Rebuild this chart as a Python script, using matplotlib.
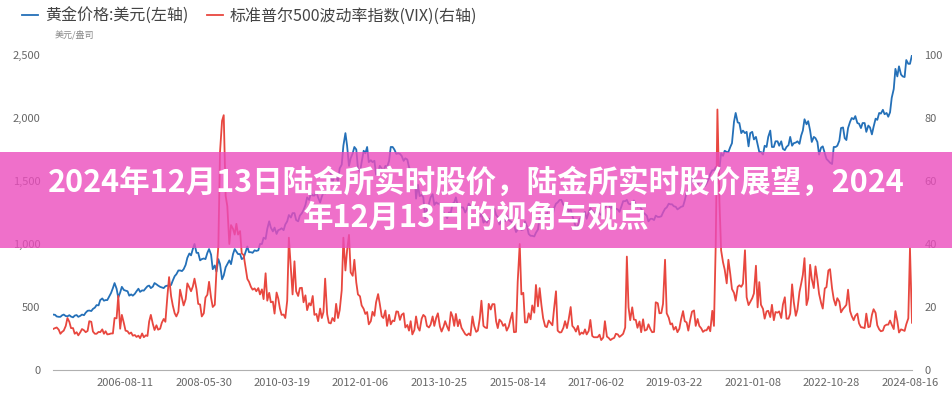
import matplotlib
matplotlib.use("Agg")
import matplotlib.pyplot as plt
import pandas as pd
from matplotlib.patches import Rectangle

plt.rcParams['font.family'] = ['Noto Sans CJK SC', 'DejaVu Sans']

# semi-monthly readings (15th, then 1st of next month), starting 2004-12-15
gold_price = [
    440, 438,
    425, 422, 422, 434, 440, 428, 426, 435, 424, 418, 432, 436, 422, 430, 440, 435, 455, 470, 472, 468, 485, 495, 515, 513,
    555, 568, 550, 555, 555, 585, 610, 650, 690, 645, 575, 615, 660, 635, 630, 625, 590, 600, 590, 605, 625, 645, 620, 632,
    630, 650, 665, 670, 650, 662, 690, 680, 670, 660, 655, 650, 665, 670, 665, 675, 710, 745, 760, 790, 790, 785, 800, 835,
    890, 925, 910, 960, 1000, 930, 930, 870, 880, 885, 880, 930, 960, 915, 800, 830, 780, 880, 840, 720, 750, 815, 840, 870,
    840, 920, 960, 940, 920, 920, 880, 890, 930, 980, 935, 935, 930, 950, 945, 950, 1000, 1000, 1050, 1040, 1120, 1180, 1130, 1100,
    1130, 1080, 1110, 1115, 1125, 1110, 1155, 1180, 1230, 1210, 1245, 1245, 1190, 1180, 1225, 1245, 1270, 1310, 1370, 1350, 1400, 1385, 1385, 1410,
    1370, 1330, 1375, 1410, 1400, 1430, 1490, 1560, 1490, 1535, 1530, 1500, 1600, 1630, 1780, 1880, 1780, 1620, 1680, 1720, 1770, 1750, 1600, 1570,
    1650, 1740, 1720, 1770, 1650, 1665, 1650, 1660, 1550, 1560, 1620, 1600, 1580, 1620, 1610, 1660, 1770, 1770, 1750, 1715, 1720, 1715, 1700, 1660,
    1680, 1670, 1610, 1580, 1590, 1595, 1360, 1470, 1380, 1390, 1370, 1200, 1280, 1320, 1370, 1395, 1310, 1330, 1320, 1320, 1285, 1250, 1230, 1205,
    1250, 1250, 1320, 1330, 1370, 1295, 1300, 1290, 1290, 1250, 1275, 1320, 1300, 1285, 1305, 1290, 1230, 1215, 1240, 1170, 1185, 1170, 1200, 1200,
    1270, 1280, 1230, 1215, 1155, 1185, 1200, 1180, 1225, 1190, 1180, 1170, 1150, 1095, 1115, 1135, 1110, 1115, 1180, 1140, 1080, 1065, 1065, 1060,
    1090, 1115, 1210, 1235, 1260, 1235, 1235, 1290, 1275, 1215, 1285, 1320, 1330, 1350, 1350, 1310, 1310, 1315, 1255, 1275, 1225, 1175, 1130, 1150,
    1200, 1210, 1235, 1255, 1200, 1250, 1285, 1265, 1235, 1265, 1260, 1240, 1230, 1270, 1285, 1315, 1320, 1280, 1300, 1270, 1280, 1275, 1255, 1300,
    1340, 1340, 1350, 1320, 1315, 1325, 1345, 1315, 1290, 1300, 1280, 1250, 1240, 1225, 1180, 1200, 1200, 1190, 1225, 1215, 1215, 1220, 1250, 1280,
    1290, 1320, 1315, 1315, 1300, 1295, 1275, 1285, 1295, 1300, 1345, 1410, 1420, 1425, 1520, 1525, 1500, 1470, 1490, 1510, 1470, 1460, 1480, 1515,
    1555, 1585, 1585, 1610, 1480, 1600, 1720, 1700, 1740, 1730, 1730, 1770, 1800, 1970, 2040, 1965, 1960, 1880, 1900, 1880, 1890, 1775, 1880, 1890,
    1830, 1850, 1790, 1730, 1730, 1710, 1780, 1770, 1850, 1900, 1770, 1770, 1815, 1815, 1780, 1815, 1755, 1745, 1770, 1785, 1850, 1780, 1800, 1805,
    1815, 1795, 1860, 1900, 1990, 1950, 1975, 1900, 1810, 1850, 1840, 1810, 1710, 1765, 1775, 1720, 1675, 1660, 1645, 1635, 1770, 1770, 1780, 1820,
    1920, 1925, 1840, 1825, 1920, 1970, 2000, 1990, 2015, 1960, 1955, 1920, 1960, 1960, 1890, 1940, 1925, 1870, 1930, 1995, 1985, 2040, 2035, 2065,
    2030, 2040, 2010, 2045, 2160, 2230, 2390, 2330, 2410, 2345, 2330, 2325, 2460, 2430, 2430, 2500,
]

vix = [
    13.0, 13.3,
    13.5, 12.8, 11.5, 12.1, 12.5, 14.0, 16.5, 15.3, 13.3, 13.3, 11.5, 12.0, 11.0, 12.0, 13.0, 12.6, 12.0, 12.4, 15.5, 15.3, 12.2, 11.5, 11.5, 12.1,
    12.0, 12.9, 11.5, 12.3, 11.3, 11.4, 11.6, 11.6, 16.5, 16.4, 23.5, 13.1, 17.5, 14.9, 12.5, 12.3, 11.5, 11.9, 10.9, 11.1, 10.5, 10.9, 10.1, 11.6,
    10.4, 11.0, 10.8, 15.4, 17.5, 14.6, 12.7, 14.2, 12.8, 13.1, 15.0, 16.2, 15.3, 23.5, 29.5, 23.4, 20.5, 18.0, 17.0, 18.5, 25.5, 22.9, 20.5, 22.5,
    27.5, 26.2, 25.0, 26.5, 29.0, 25.6, 21.0, 20.8, 17.0, 18.0, 23.0, 23.9, 28.0, 22.9, 20.0, 20.7, 31.5, 39.4, 69.3, 79.1, 80.9, 55.3, 52.0, 40.0,
    46.0, 44.8, 43.0, 46.4, 43.0, 44.1, 37.0, 36.5, 33.0, 28.9, 28.0, 26.4, 25.5, 25.9, 25.0, 26.0, 24.0, 25.6, 22.5, 30.7, 22.0, 24.5, 21.5, 21.7,
    17.9, 24.6, 22.7, 19.5, 17.5, 17.6, 16.5, 22.0, 42.0, 32.1, 24.0, 34.5, 25.0, 23.5, 26.0, 26.1, 21.5, 23.7, 19.0, 21.2, 20.5, 23.5, 17.5, 17.8,
    15.5, 19.5, 16.5, 18.4, 29.0, 17.7, 15.0, 14.8, 16.5, 15.5, 21.0, 16.5, 19.0, 25.3, 42.0, 31.6, 38.0, 42.9, 31.0, 29.9, 35.0, 27.8, 24.0, 23.4,
    20.5, 19.4, 17.8, 18.4, 14.5, 15.5, 18.5, 17.2, 21.5, 24.1, 21.0, 17.1, 16.5, 18.9, 14.0, 17.5, 14.5, 15.7, 15.5, 18.6, 18.5, 15.9, 17.5, 18.0,
    13.5, 14.3, 12.5, 15.5, 11.3, 12.7, 17.0, 13.5, 12.5, 16.3, 17.5, 16.9, 14.0, 13.5, 14.4, 17.0, 14.0, 16.6, 18.0, 13.8, 12.2, 13.7, 15.5, 13.7,
    12.5, 18.4, 17.0, 14.0, 17.8, 13.9, 16.0, 13.4, 12.5, 11.4, 11.0, 11.6, 11.0, 17.0, 14.0, 12.1, 12.5, 16.3, 22.0, 14.0, 13.5, 13.3, 21.0, 19.2,
    20.9, 20.9, 15.5, 13.3, 16.0, 15.3, 14.0, 14.6, 12.5, 13.8, 16.0, 18.2, 12.0, 12.1, 28.0, 40.0, 24.0, 24.5, 15.1, 15.1, 18.0, 16.1, 20.5, 18.2,
    27.0, 20.2, 26.0, 20.6, 16.5, 13.9, 13.6, 15.7, 15.0, 14.2, 19.5, 25.0, 12.5, 11.9, 12.0, 13.4, 15.5, 13.3, 16.0, 20.0, 14.0, 13.3, 12.2, 14.0,
    11.2, 11.9, 11.5, 12.9, 11.3, 12.4, 15.9, 10.8, 10.4, 10.4, 10.4, 11.2, 9.5, 10.3, 15.5, 10.6, 10.2, 9.5, 9.9, 10.2, 11.5, 11.3, 10.5, 11.0,
    11.5, 13.5, 36.0, 19.9, 15.8, 19.9, 16.0, 15.9, 13.4, 15.4, 12.0, 16.1, 12.5, 12.8, 14.5, 12.9, 12.0, 12.1, 21.5, 21.2, 18.0, 18.1, 21.0, 35.0,
    18.0, 16.6, 14.5, 14.8, 12.8, 13.7, 12.0, 13.1, 16.0, 18.7, 15.5, 15.1, 12.5, 16.1, 18.5, 18.9, 14.0, 16.2, 14.0, 13.2, 12.1, 12.6, 12.6, 13.8,
    12.3, 18.8, 14.0, 40.1, 82.7, 53.5, 38.0, 34.2, 31.9, 27.5, 35.0, 30.4, 25.7, 24.5, 22.0, 26.4, 26.9, 26.4, 27.4, 38.0, 23.1, 20.6, 21.6, 22.8,
    24.3, 33.1, 19.9, 27.9, 20.7, 19.4, 16.3, 18.6, 18.8, 16.8, 20.7, 15.8, 18.4, 18.2, 18.6, 16.5, 20.8, 23.1, 16.3, 16.3, 17.9, 27.2, 21.6, 17.2,
    19.2, 24.8, 27.4, 30.2, 35.5, 20.6, 22.7, 33.4, 28.9, 26.0, 32.9, 28.7, 24.2, 21.3, 19.5, 25.9, 26.3, 31.6, 32.0, 25.9, 22.5, 20.5, 22.8, 21.7,
    18.3, 19.4, 20.0, 20.7, 25.5, 18.7, 17.1, 15.8, 17.2, 17.9, 14.8, 13.6, 13.5, 13.3, 17.9, 13.6, 13.8, 17.5, 19.3, 18.1, 14.2, 12.9, 12.3, 12.5,
    14.0, 14.4, 14.4, 15.7, 14.4, 13.0, 18.7, 15.6, 11.9, 12.9, 12.7, 12.4, 14.5, 16.4, 38.6, 15.0,
]

tick_dates = ['2006-08-11', '2008-05-30', '2010-03-19', '2012-01-06', '2013-10-25', '2015-08-14',
              '2017-06-02', '2019-03-22', '2021-01-08', '2022-10-28', '2024-08-16']

gold_label = '黄金价格:美元(左轴)'
vix_label = '标准普尔500波动率指数(VIX)(右轴)'
title_lines = ['2024年12月13日陆金所实时股价，陆金所实时股价展望，2024', '年12月13日的视角与观点']

dates = pd.date_range('2004-12-15', periods=len(gold_price), freq='SMS')

fig = plt.figure(figsize=(9.53, 4.0), dpi=100)
ax = fig.add_axes([53 / 953, 30 / 400, 859 / 953, 315 / 400])
ax2 = ax.twinx()

l1, = ax.plot(dates, gold_price, color='#2470b8', lw=1.3, label=gold_label)
l2, = ax2.plot(dates, vix, color='#e8473f', lw=1.3, label=vix_label)

ax.set_ylim(0, 2500)
ax2.set_ylim(0, 100)
ax.set_xlim(dates[0], dates[-1])
ax.set_yticks(range(0, 2501, 500))
ax.set_yticklabels([f'{v:,}' for v in range(0, 2501, 500)])
ax2.set_yticks(range(0, 101, 20))
ax.set_xticks(pd.to_datetime(tick_dates))
ax.set_xticklabels(tick_dates)

for a in (ax, ax2):
    for s in a.spines.values():
        s.set_visible(False)
    a.tick_params(length=0, labelsize=8, labelcolor='#666666')
ax.spines['bottom'].set_visible(True)
ax.spines['bottom'].set_color('#b0b0b0')
ax.tick_params(axis='y', pad=9)
ax2.tick_params(axis='y', pad=9)
ax.tick_params(axis='x', pad=6)

fig.legend([l1, l2], [gold_label, vix_label], loc='upper left', bbox_to_anchor=(16 / 953, 1 - 1 / 400),
           borderaxespad=0, ncol=2, frameon=False, fontsize=11.5, handlelength=1.0, handletextpad=0.4,
           columnspacing=1.2, labelcolor='#444444')
fig.text(55 / 953, 1 - 35 / 400, '美元/盎司', fontsize=6.5, color='#888888', va='center')

# pink banner on top of the chart
fig.add_artist(Rectangle((0, (400 - 248) / 400), 1, 96 / 400,
                         transform=fig.transFigure, facecolor='#eb4cbd', edgecolor='none',
                         alpha=0.8, zorder=5))
fig.text(0.5, 1 - 183 / 400, title_lines[0], ha='center', va='center', fontsize=22,
         weight='bold', color='white', zorder=6)
fig.text(0.5, 1 - 218 / 400, title_lines[1], ha='center', va='center', fontsize=22,
         weight='bold', color='white', zorder=6)

fig.savefig('out.png', dpi=100)
